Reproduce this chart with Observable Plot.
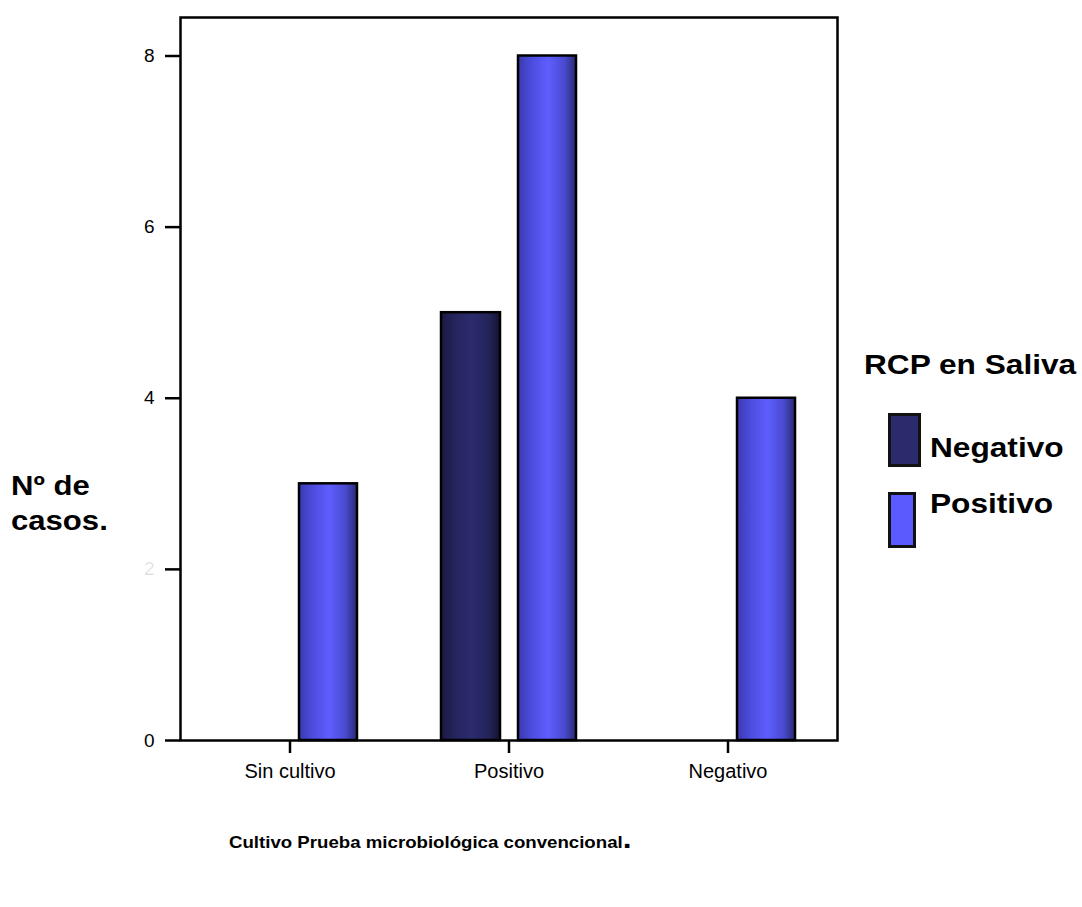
<!DOCTYPE html>
<html>
<head>
<meta charset="utf-8">
<script src="https://cdn.jsdelivr.net/npm/d3@7"></script>
<script src="https://cdn.jsdelivr.net/npm/@observablehq/plot@0.6"></script>
<style>
  html, body { margin: 0; padding: 0; background: #fff; }
  #wrap { position: relative; width: 1082px; height: 907px; font-family: Arial, "Liberation Sans", sans-serif; color: #000; }
  .stretch { position: absolute; white-space: nowrap; font-weight: bold; transform: scaleX(1.13); transform-origin: left top; line-height: 1; }
  .swatch { position: absolute; border: 3px solid #111; box-sizing: border-box; }
</style>
</head>
<body>
<div id="wrap">
  <div id="chart"></div>
  <div class="stretch" style="left:11px; top:468px; font-size:28px; line-height:35px; transform: scaleX(1.11);">Nº de<br>casos.</div>
  <div class="stretch" style="left:864px; top:351px; font-size:28px;">RCP en Saliva</div>
  <div class="swatch" id="sw-neg" style="left:888px; top:413px; width:33px; height:54px;"></div>
  <div class="stretch" style="left:930px; top:434px; font-size:28px;" id="lg-neg"></div>
  <div class="swatch" id="sw-pos" style="left:888px; top:492px; width:28px; height:56px;"></div>
  <div class="stretch" style="left:930px; top:490px; font-size:28px;" id="lg-pos"></div>
  <div class="stretch" style="left:229px; top:834px; font-size:16.5px;">Cultivo Prueba microbiológica convencional<span style="font-size:28px; line-height:0;">.</span></div>
</div>
<script>
// Number of cases by conventional culture result, split by saliva PCR result
const categories = ["Sin cultivo", "Positivo", "Negativo"];
const seriesNames = ["Negativo", "Positivo"];
const negativoCounts = [0, 5, 0];
const positivoCounts = [3, 8, 4];
const yTicks = [0, 2, 4, 6, 8];

const seriesColors = { Negativo: "#2a2a6c", Positivo: "#5a5aff" };

const rows = categories.flatMap((c, i) => [
  { category: c, series: "Negativo", count: negativoCounts[i] },
  { category: c, series: "Positivo", count: positivoCounts[i] }
]);

const font = 'Arial, "Liberation Sans", sans-serif';

const chart = Plot.plot({
  width: 1082,
  height: 800,
  marginLeft: 180,
  marginRight: 245,
  marginTop: 17,
  marginBottom: 60,
  style: { fontFamily: font, background: "white", color: "black", overflow: "visible" },
  x: { domain: categories, padding: 0, label: null },
  // a little headroom above the top tick
  y: { domain: [0, 8.45], label: null },
  marks: [
    Plot.barY(rows.filter(d => d.series === seriesNames[0]), {
      x: "category", y: "count", fill: "url(#grad-neg)",
      stroke: "black", strokeWidth: 2.5, insetLeft: 42, insetRight: 118
    }),
    Plot.barY(rows.filter(d => d.series === seriesNames[1]), {
      x: "category", y: "count", fill: "url(#grad-pos)",
      stroke: "black", strokeWidth: 2.5, insetLeft: 119, insetRight: 42
    }),
    Plot.frame({ stroke: "black", strokeWidth: 2.5 }),
    Plot.axisY(yTicks, {
      tickSize: 15, tickPadding: 11, strokeWidth: 2.5, fontSize: 19,
      tickFormat: d => String(d),
      fillOpacity: d => (d === 2 ? 0.12 : 1)
    }),
    Plot.axisX(categories, {
      tickSize: 13, tickPadding: 10, strokeWidth: 2.5, fontSize: 20, label: null
    })
  ]
});

// horizontal shading that gives each bar a rounded, cylinder-like look
const defs = d3.create("svg:defs");
function addGradient(id, stops) {
  const g = defs.append("linearGradient").attr("id", id)
    .attr("x1", "0%").attr("x2", "100%").attr("y1", "0%").attr("y2", "0%");
  stops.forEach(([o, c]) => g.append("stop").attr("offset", o).attr("stop-color", c));
}
addGradient("grad-pos", [["0%", "#3a3aae"], ["20%", "#4a4ad8"], ["52%", "#5e5eff"], ["80%", "#4a4ad0"], ["100%", "#2a2a74"]]);
addGradient("grad-neg", [["0%", "#191944"], ["25%", "#25255e"], ["52%", "#2b2b6e"], ["80%", "#24245a"], ["100%", "#141434"]]);
chart.insertBefore(defs.node(), chart.firstChild);

document.getElementById("chart").appendChild(chart);

document.getElementById("sw-neg").style.background = seriesColors.Negativo;
document.getElementById("sw-pos").style.background = seriesColors.Positivo;
document.getElementById("lg-neg").textContent = seriesNames[0];
document.getElementById("lg-pos").textContent = seriesNames[1];
</script>
</body>
</html>
